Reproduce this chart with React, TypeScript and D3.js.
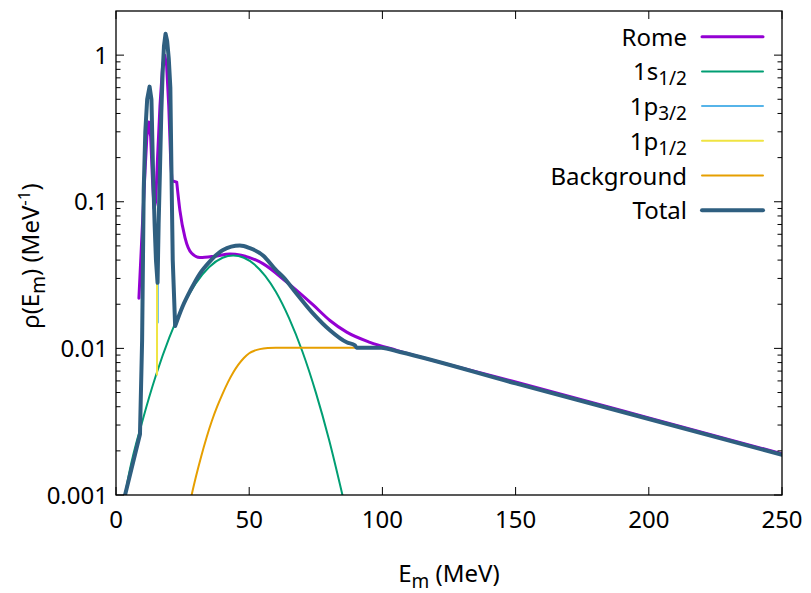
import React from 'react';
import * as d3 from 'd3';

// ---------- data ----------
const romeX = [8.6, 10.9, 11.6, 12.3, 13.0, 13.7, 14.3, 14.9, 15.6, 16.5, 17.5, 18.3, 19.0, 19.8, 20.5, 21.0, 22.8, 24.0, 25.9, 28.4, 31.5, 37.0, 42.8, 47.0, 55.3, 64.1, 74.1, 80.3, 86.6, 95.3, 105.4, 150, 200, 250];
const romeY = [0.022, 0.163, 0.28, 0.35, 0.28, 0.14, 0.09, 0.1, 0.2, 0.45, 0.85, 1.0, 0.85, 0.45, 0.2, 0.139, 0.136, 0.087, 0.057, 0.0445, 0.0416, 0.0425, 0.0441, 0.0432, 0.0377, 0.0283, 0.0197, 0.0155, 0.0129, 0.011, 0.0097, 0.0059, 0.00336, 0.00191];

const s12X = [3.4, 5, 10, 15, 20, 25, 30, 35, 40, 44, 48, 52, 56, 60, 65, 70, 75, 80, 85];
const s12Y = [0.001, 0.00143, 0.00324, 0.00656, 0.01186, 0.0192, 0.0278, 0.0359, 0.0415, 0.043, 0.0415, 0.0373, 0.0312, 0.0243, 0.016, 0.00948, 0.00501, 0.00237, 0.001];

const p32X = [15.7, 15.7, 16.0, 16.5, 17.0, 17.5, 18.0, 18.6, 19.2, 19.8, 20.4, 20.8, 21.3, 22.2];
const p32Y = [0.015, 0.028, 0.07, 0.163, 0.4, 0.75, 1.15, 1.4, 1.25, 0.95, 0.6, 0.17, 0.04, 0.0142];

const p12X = [9.0, 9.8, 10.4, 11.0, 11.7, 12.6, 13.3, 13.9, 14.5, 15.0, 15.4, 15.4];
const p12Y = [0.0026, 0.0113, 0.12, 0.3, 0.5, 0.61, 0.5, 0.163, 0.07, 0.04, 0.028, 0.0066];

const bkgX = [27.8, 28.4, 30, 32, 34, 36, 38, 40, 42, 44, 46, 48, 50, 52, 54, 57, 60, 70, 80, 89.7];
const bkgY = [0.00089, 0.001, 0.00133, 0.00184, 0.00247, 0.00321, 0.00402, 0.0049, 0.00586, 0.00684, 0.00777, 0.0086, 0.00927, 0.00965, 0.00988, 0.01005, 0.0101, 0.0101, 0.0101, 0.0101];

const totX = [3.4, 9.0, 9.8, 10.4, 11.0, 11.7, 12.6, 13.3, 13.9, 14.5, 15.0, 15.6, 16.0, 16.5, 17.0, 17.5, 18.0, 18.6, 19.2, 19.8, 20.4, 20.8, 21.3, 22.2, 25, 28, 31.5, 35, 40, 46.5, 50, 55.3, 60, 62.8, 67.8, 74.1, 80.3, 86.6, 89.7, 90.3, 99.5, 106.6, 150, 200, 250];
const totY = [0.001, 0.0026, 0.0113, 0.12, 0.3, 0.5, 0.61, 0.5, 0.163, 0.07, 0.04, 0.028, 0.07, 0.163, 0.4, 0.75, 1.15, 1.4, 1.25, 0.95, 0.6, 0.17, 0.04, 0.0142, 0.0193, 0.025, 0.0324, 0.0388, 0.0467, 0.0503, 0.0485, 0.0429, 0.0343, 0.0306, 0.0236, 0.0172, 0.0133, 0.011, 0.0105, 0.0101, 0.0101, 0.00944, 0.00577, 0.0033, 0.00188];

const xTicks = [0, 50, 100, 150, 200, 250];
const yTicks = [0.001, 0.01, 0.1, 1];
const yTickLabels = ['0.001', '0.01', '0.1', '1'];

const legendNames = ['Rome', '1s', '1p', '1p', 'Background', 'Total'];
const legendSubs = ['', '1/2', '3/2', '1/2', '', ''];

// ---------- layout ----------
const W = 811, H = 593;
const L = 116, R = 782, T = 11, B = 495;
const FONT = '"Noto Sans", "Open Sans", sans-serif';

const xS = d3.scaleLinear().domain([0, 250]).range([L, R]);
const yS = d3.scaleLog().domain([0.001, 2]).range([B, T]);

type Series = { xs: number[]; ys: number[]; color: string; width: number; split: number };

function pathFor(xs: number[], ys: number[], split: number): string {
  const pts: [number, number][] = xs.map((x, i) => [x, ys[i]]);
  const lin = d3.line<[number, number]>().x(d => xS(d[0])).y(d => yS(d[1])).curve(d3.curveLinear);
  const mono = d3.line<[number, number]>().x(d => xS(d[0])).y(d => yS(d[1])).curve(d3.curveMonotoneX);
  const a = pts.filter(p => p[0] <= split);
  const b = pts.filter(p => p[0] >= split);
  let d = '';
  if (a.length > 1) d += lin(a) || '';
  if (b.length > 1) d += mono(b) || '';
  return d;
}

const series: Series[] = [
  { xs: romeX, ys: romeY, color: '#9400d3', width: 3, split: 22.8 },
  { xs: s12X, ys: s12Y, color: '#009e73', width: 2, split: -1 },
  { xs: p32X, ys: p32Y, color: '#56b4e9', width: 2, split: 999 },
  { xs: p12X, ys: p12Y, color: '#f0e442', width: 2, split: 999 },
  { xs: bkgX, ys: bkgY, color: '#e69f00', width: 2, split: -1 },
  { xs: totX, ys: totY, color: '#2f5f80', width: 4, split: 22.2 },
];

export default function App() {
  const minor: number[] = [];
  yTicks.forEach(d => {
    for (let k = 2; k <= 9; k++) {
      const v = k * d;
      if (v < 2) minor.push(v);
    }
  });

  const legTop = 36.7, legStep = 34.7;

  return (
    <svg width={W} height={H} style={{ position: 'absolute', left: 0, top: 0, background: '#fff' }}
      fontFamily={FONT}>
      <defs>
        <clipPath id="plotclip">
          <rect x={L} y={T} width={R - L} height={B - T} />
        </clipPath>
      </defs>
      <rect x={0} y={0} width={W} height={H} fill="#fff" />

      {/* curves */}
      <g clipPath="url(#plotclip)" fill="none" strokeLinejoin="round" strokeLinecap="round">
        {series.map((s, i) => (
          <path key={i} d={pathFor(s.xs, s.ys, s.split)} stroke={s.color} strokeWidth={s.width} />
        ))}
      </g>

      {/* ticks */}
      <g stroke="#000" strokeWidth={1}>
        {xTicks.map(t => (
          <g key={'xt' + t}>
            <line x1={xS(t)} x2={xS(t)} y1={B} y2={B - 8} />
            <line x1={xS(t)} x2={xS(t)} y1={T} y2={T + 8} />
          </g>
        ))}
        {yTicks.map(t => (
          <g key={'yt' + t}>
            <line x1={L} x2={L + 8} y1={yS(t)} y2={yS(t)} />
            <line x1={R} x2={R - 8} y1={yS(t)} y2={yS(t)} />
          </g>
        ))}
        {minor.map(t => (
          <g key={'ym' + t}>
            <line x1={L} x2={L + 4.5} y1={yS(t)} y2={yS(t)} />
            <line x1={R} x2={R - 4.5} y1={yS(t)} y2={yS(t)} />
          </g>
        ))}
      </g>

      {/* frame */}
      <rect x={L} y={T} width={R - L} height={B - T} fill="none" stroke="#000" strokeWidth={1.3} />

      {/* tick labels */}
      <g fontSize={24} fill="#000">
        {xTicks.map(t => (
          <text key={'xl' + t} x={xS(t)} y={528} textAnchor="middle">{t}</text>
        ))}
        {yTicks.map((t, i) => (
          <text key={'yl' + t} x={108} y={yS(t) + 8.5} textAnchor="end">{yTickLabels[i]}</text>
        ))}
      </g>

      {/* axis titles */}
      <text x={449} y={582} textAnchor="middle" fontSize={24} fill="#000">
        E<tspan fontSize={19} dy={6}>m</tspan><tspan dy={-6}>{' (MeV)'}</tspan>
      </text>
      <text transform="translate(39,256) rotate(-90)" textAnchor="middle" fontSize={24} fill="#000">
        ρ(E<tspan fontSize={19} dy={6}>m</tspan><tspan dy={-6}>{') (MeV'}</tspan><tspan fontSize={17} dy={-9}>-1</tspan><tspan dy={9}>)</tspan>
      </text>

      {/* legend */}
      <g fontSize={24} fill="#000">
        {legendNames.map((n, i) => {
          const cy = legTop + i * legStep;
          const s = series[i];
          return (
            <g key={'lg' + i}>
              <text x={687} y={cy + 9} textAnchor="end">
                {n}
                {legendSubs[i] ? <tspan fontSize={19} dy={5}>{legendSubs[i]}</tspan> : null}
              </text>
              <line x1={702} x2={763} y1={cy} y2={cy} stroke={s.color} strokeWidth={s.width} strokeLinecap="round" />
            </g>
          );
        })}
      </g>
    </svg>
  );
}
